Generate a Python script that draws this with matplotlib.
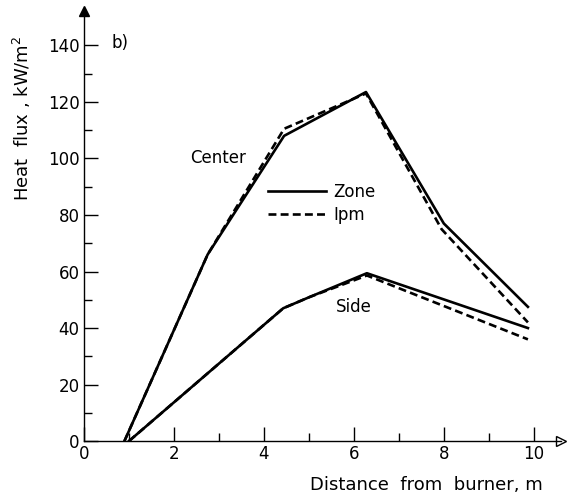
import matplotlib
matplotlib.use('Agg')
from matplotlib import pyplot as plt

# distance from burner, m / heat flux, kW/m2
center_zone_x = [0.9, 2.75, 4.45, 6.27, 8.0, 9.87]
center_zone_y = [0, 66, 108, 123.5, 77, 47.5]
center_ipm_x = [0.9, 2.75, 4.45, 6.27, 7.95, 9.87]
center_ipm_y = [0, 66, 110.5, 123, 75, 42]

side_zone_x = [1.0, 4.43, 5.02, 6.29, 9.87]
side_zone_y = [0, 47, 51, 59.4, 40]
side_ipm_x = [1.0, 4.43, 5.02, 6.29, 9.87]
side_ipm_y = [0, 47, 51, 58.6, 36]

x_ticks = [0, 2, 4, 6, 8, 10]
y_ticks = [0, 20, 40, 60, 80, 100, 120, 140]


def main():
    plt.rcParams['font.family'] = 'DejaVu Sans'
    fig = plt.figure(figsize=(5.67, 4.99), dpi=100)
    ax = fig.add_axes([0.148, 0.116, 0.841, 0.861])

    lw = 1.9
    ax.plot(center_zone_x, center_zone_y, color='black', lw=lw, label='Zone')
    ax.plot(center_ipm_x, center_ipm_y, color='black', lw=lw, ls=(0, (3.0, 1.6)), label='Ipm')
    ax.plot(side_zone_x, side_zone_y, color='black', lw=lw)
    ax.plot(side_ipm_x, side_ipm_y, color='black', lw=lw, ls=(0, (3.0, 1.6)))

    ax.set_xlim(0, 10.6)
    ax.set_ylim(0, 152)
    ax.spines['top'].set_visible(False)
    ax.spines['right'].set_visible(False)
    ax.spines['left'].set_linewidth(1.0)
    ax.spines['bottom'].set_linewidth(1.0)

    # axis arrows
    ax.plot([1], [0], marker='>', color='black', ms=7, mfc='white', mew=1.0,
            transform=ax.transAxes, clip_on=False)
    ax.plot([0], [1], marker='^', color='black', ms=7,
            transform=ax.transAxes, clip_on=False)

    ax.set_xticks(x_ticks)
    ax.set_yticks(y_ticks)
    ax.set_xticks([1, 3, 5, 7, 9], minor=True)
    ax.set_yticks([10, 30, 50, 70, 90, 110, 130], minor=True)
    ax.tick_params(which='major', direction='in', length=10, width=1.0, labelsize=12, pad=3)
    ax.tick_params(which='minor', direction='in', length=5.5, width=1.0)

    ax.set_ylabel('Heat  flux , kW/m$^2$', fontsize=13)
    ax.yaxis.set_label_coords(-0.107, 0.752)
    fig.text(0.958, 0.028, 'Distance  from  burner, m', fontsize=13, ha='right', va='center')

    ax.text(2.36, 100, 'Center', fontsize=12, va='center')
    ax.text(5.6, 47.5, 'Side', fontsize=12, va='center')
    ax.text(0.62, 141, 'b)', fontsize=12, va='center')

    ax.legend(loc='upper left', bbox_to_anchor=(0.386, 0.60), frameon=False,
              fontsize=12, handlelength=3.5, handletextpad=0.4, labelspacing=0.3,
              borderpad=0, borderaxespad=0)

    plt.savefig('out.png', dpi=100)


if __name__ == '__main__':
    main()
